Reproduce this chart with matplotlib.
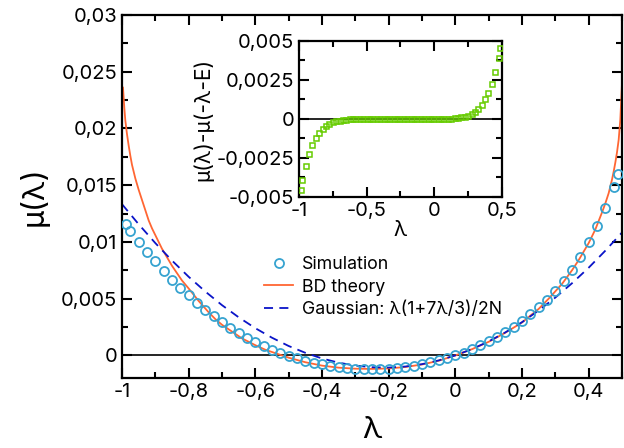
import numpy as np
import matplotlib
matplotlib.use('Agg')
import matplotlib.pyplot as plt
from matplotlib.ticker import MultipleLocator, FuncFormatter

plt.rcParams['font.family'] = ['Inter', 'DejaVu Sans']

# simulation points (main panel)
lam_sim = [-0.988, -0.975, -0.95, -0.925, -0.9, -0.875, -0.85, -0.825, -0.8,
           -0.775, -0.75, -0.725, -0.7, -0.675, -0.65, -0.625, -0.6, -0.575,
           -0.55, -0.525, -0.5, -0.475, -0.45, -0.425, -0.4, -0.375, -0.35,
           -0.325, -0.3, -0.275, -0.25, -0.225, -0.2, -0.175, -0.15, -0.125,
           -0.1, -0.075, -0.05, -0.025, 0.0, 0.025, 0.05, 0.075, 0.1, 0.125,
           0.15, 0.175, 0.2, 0.225, 0.25, 0.275, 0.3, 0.325, 0.35, 0.375, 0.4,
           0.425, 0.45, 0.475, 0.488]
mu_sim = [0.0116, 0.0110, 0.0100, 0.00911, 0.00829, 0.00744, 0.00667, 0.00597,
          0.00529, 0.00462, 0.00403, 0.00344, 0.00291, 0.00241, 0.00197,
          0.00156, 0.00117, 0.00082, 0.00050, 0.00020, -0.00006, -0.00024,
          -0.00045, -0.00063, -0.00079, -0.00092, -0.00103, -0.00112, -0.00118,
          -0.00122, -0.00123, -0.00122, -0.00118, -0.00111, -0.00101, -0.00089,
          -0.00076, -0.00060, -0.00042, -0.00022, 0.0, 0.00020, 0.00059,
          0.00088, 0.00123, 0.00162, 0.00203, 0.00250, 0.00303, 0.00362,
          0.00426, 0.00491, 0.00567, 0.00656, 0.00756, 0.00867, 0.00997,
          0.01138, 0.01299, 0.01485, 0.01596]

# BD theory curve
lam_bd = [-0.997, -0.993, -0.99, -0.985, -0.98, -0.975, -0.97, -0.965, -0.96,
          -0.95, -0.94, -0.93, -0.92, -0.91, -0.9, -0.89, -0.88, -0.87, -0.86,
          -0.85, -0.82, -0.8, -0.77, -0.74, -0.72, -0.7, -0.67, -0.64, -0.62,
          -0.6, -0.57, -0.54, -0.52, -0.5, -0.45, -0.4, -0.35, -0.3, -0.25,
          -0.2, -0.15, -0.1, -0.05, 0.0, 0.05, 0.1, 0.15, 0.2, 0.25, 0.28,
          0.32, 0.35, 0.37, 0.4, 0.42, 0.44, 0.45, 0.46, 0.47, 0.475, 0.48,
          0.485, 0.49, 0.495, 0.5]
mu_bd = [0.0236, 0.0218, 0.0207, 0.0195, 0.0185, 0.0176, 0.0168, 0.0162,
         0.0156, 0.0146, 0.0137, 0.0128, 0.0119, 0.0112, 0.0106, 0.0100,
         0.0094, 0.0089, 0.0084, 0.0079, 0.0066, 0.0059, 0.0048, 0.0038,
         0.0032, 0.0027, 0.0021, 0.0015, 0.0012, 0.0009, 0.0005, 0.0002, 0.0,
         -0.0002, -0.0006, -0.0009, -0.00108, -0.00117, -0.00119, -0.00115,
         -0.00102, -0.0008, -0.00047, 0.0, 0.00055, 0.0012, 0.002, 0.0029,
         0.0041, 0.005, 0.0063, 0.0075, 0.0084, 0.0099, 0.0111, 0.0126, 0.0134,
         0.0143, 0.0155, 0.0162, 0.017, 0.0179, 0.019, 0.0208, 0.024]

# Gaussian curve
lam_g = [-1.0, -0.95, -0.9, -0.85, -0.8, -0.75, -0.7, -0.65, -0.6, -0.55, -0.5,
         -0.45, -0.4, -0.35, -0.3, -0.25, -0.2, -0.15, -0.1, -0.05, 0.0, 0.05,
         0.1, 0.15, 0.2, 0.25, 0.3, 0.35, 0.4, 0.45, 0.5]
mu_g = [0.01333, 0.01156, 0.0099, 0.00836, 0.00693, 0.00563, 0.00443, 0.00336,
        0.0024, 0.00156, 0.00083, 0.00023, -0.00027, -0.00064, -0.0009,
        -0.00104, -0.00107, -0.00098, -0.00077, -0.00044, 0.0, 0.00056,
        0.00123, 0.00203, 0.00293, 0.00396, 0.0051, 0.00636, 0.00773, 0.00923,
        0.01083]

# inset: mu(l) - mu(-l-E)
lam_in = lam_sim
diff_in = [-0.00457, -0.00392, -0.00302, -0.00226, -0.00168, -0.00125, -0.00091,
           -0.00065, -0.00046, -0.00031, -0.00022, -0.00015, -0.00011, -0.00007,
           -0.00004, -0.00002, -0.00001, 0.0, 0.0, 0.0, 0.0, 0.0, 0.0, 0.0, 0.0,
           0.0, 0.0, 0.0, 0.0, 0.0, 0.0, 0.0, 0.0, 0.0, 0.0, 0.0, 0.0, 0.0, 0.0,
           0.0, 0.0, 0.0, 0.0, 0.00001, 0.00001, 0.00002, 0.00004, 0.00007,
           0.00011, 0.00015, 0.00022, 0.00031, 0.00046, 0.00065, 0.00091,
           0.00125, 0.00168, 0.00226, 0.00302, 0.00392, 0.00457]


def comma(v, pos):
    v = round(v, 6)
    if v == 0:
        return '0'
    return ('%g' % v).replace('.', ',')


def style_axes(ax, size):
    ax.tick_params(which='both', direction='in', top=True, right=True,
                   labelsize=size, width=1.5)
    ax.tick_params(which='major', length=7)
    ax.tick_params(which='minor', length=4)
    for s in ax.spines.values():
        s.set_linewidth(1.6)
    ax.xaxis.set_major_formatter(FuncFormatter(comma))
    ax.yaxis.set_major_formatter(FuncFormatter(comma))


fig = plt.figure(figsize=(6.24, 4.48), dpi=100)
ax = fig.add_axes([0.1955, 0.1560, 0.8013, 0.8105])
ax.axhline(0, color='black', lw=1.2, zorder=1)
ax.plot(lam_sim, mu_sim, 'o', ms=6.5, mfc='none', mec='#36a3d0', mew=1.3,
        label='Simulation', zorder=3)
ax.plot(lam_bd, mu_bd, '-', color='#ff6633', lw=1.3, label='BD theory', zorder=2)
ax.plot(lam_g, mu_g, '--', color='#0a14c8', lw=1.3, dashes=(5, 3.5),
        label='Gaussian: λ(1+7λ/3)/2N', zorder=2)
ax.set_xlim(-1, 0.5)
ax.set_ylim(-0.002, 0.03)
ax.xaxis.set_major_locator(MultipleLocator(0.2))
ax.xaxis.set_minor_locator(MultipleLocator(0.1))
ax.yaxis.set_major_locator(MultipleLocator(0.005))
ax.yaxis.set_minor_locator(MultipleLocator(0.0025))
style_axes(ax, 14.5)
ax.set_xlabel('λ', fontsize=22, labelpad=11)
ax.set_ylabel('μ(λ)', fontsize=22, labelpad=9)
ax.legend(loc='upper left', bbox_to_anchor=(0.26, 0.37), frameon=False,
          fontsize=12.8, handlelength=1.6, handletextpad=0.5,
          labelspacing=0.3, borderpad=0.2)

# inset
axi = fig.add_axes([0.479, 0.5603, 0.3255, 0.3482])
axi.axhline(0, color='black', lw=1.2, zorder=1)
axi.plot(lam_in, diff_in, 's', ms=3.6, mfc='none', mec='#66cc00', mew=1.1,
         zorder=3)
axi.set_xlim(-1, 0.5)
axi.set_ylim(-0.005, 0.005)
axi.xaxis.set_major_locator(MultipleLocator(0.5))
axi.xaxis.set_minor_locator(MultipleLocator(0.25))
axi.yaxis.set_major_locator(MultipleLocator(0.0025))
axi.yaxis.set_minor_locator(MultipleLocator(0.00125))
style_axes(axi, 14.5)
axi.set_xlabel('λ', fontsize=15, labelpad=0)
axi.set_ylabel('μ(λ)-μ(-λ-E)', fontsize=15, labelpad=2)

fig.savefig('out.png', dpi=100)
